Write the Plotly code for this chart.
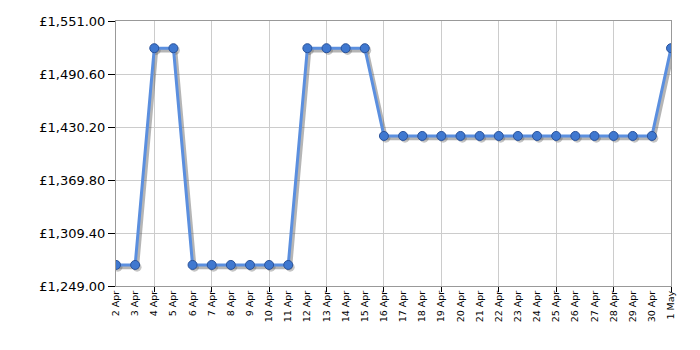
import plotly.graph_objects as go

dates = ["2 Apr", "3 Apr", "4 Apr", "5 Apr", "6 Apr", "7 Apr", "8 Apr", "9 Apr", "10 Apr",
         "11 Apr", "12 Apr", "13 Apr", "14 Apr", "15 Apr", "16 Apr", "17 Apr", "18 Apr",
         "19 Apr", "20 Apr", "21 Apr", "22 Apr", "23 Apr", "24 Apr", "25 Apr", "26 Apr",
         "27 Apr", "28 Apr", "29 Apr", "30 Apr", "1 May"]
prices = [1273, 1273, 1520, 1520, 1273, 1273, 1273, 1273, 1273, 1273,
          1520, 1520, 1520, 1520, 1420, 1420, 1420, 1420, 1420, 1420,
          1420, 1420, 1420, 1420, 1420, 1420, 1420, 1420, 1420, 1520]
y_ticks = [1249.00, 1309.40, 1369.80, 1430.20, 1490.60, 1551.00]

x = list(range(len(dates)))

fig = go.Figure()
# shadow
fig.add_trace(go.Scatter(
    x=[v + 0.1 for v in x], y=[p - 2.5 for p in prices], mode="lines+markers",
    line=dict(color="rgba(90,90,90,0.45)", width=4),
    marker=dict(size=9, color="rgba(90,90,90,0.35)"),
    hoverinfo="skip", showlegend=False))
fig.add_trace(go.Scatter(
    x=x, y=prices, mode="lines+markers",
    line=dict(color="#5b8fdf", width=3),
    marker=dict(size=9, color="#3f78d0", line=dict(color="#2b539a", width=1)),
    showlegend=False))

fig.update_layout(
    width=700, height=350,
    margin=dict(l=116, r=29, t=21, b=64),
    plot_bgcolor="white", paper_bgcolor="white",
    font=dict(family="DejaVu Sans, Verdana, sans-serif", color="black"),
)
fig.update_xaxes(
    range=[0, len(dates) - 1],
    tickmode="array", tickvals=x, ticktext=dates, tickangle=-90,
    tickfont=dict(size=9.5), ticks="", showgrid=False,
    showline=True, linecolor="#999999", linewidth=1, mirror=True,
    zeroline=False,
    minor=dict(tickmode="array", tickvals=x[2::3], showgrid=True, gridcolor="#cccccc",
               ticks="outside", ticklen=5, tickcolor="black"),
)
fig.update_yaxes(
    range=[y_ticks[0], y_ticks[-1]],
    tickmode="array", tickvals=y_ticks,
    ticktext=["£{:,.2f}".format(v) for v in y_ticks],
    tickfont=dict(size=13), ticks="outside", ticklen=7, tickcolor="black",
    showgrid=True, gridcolor="#cccccc",
    showline=True, linecolor="#999999", linewidth=1, mirror=True, zeroline=False,
)
fig.write_html("out.html")
